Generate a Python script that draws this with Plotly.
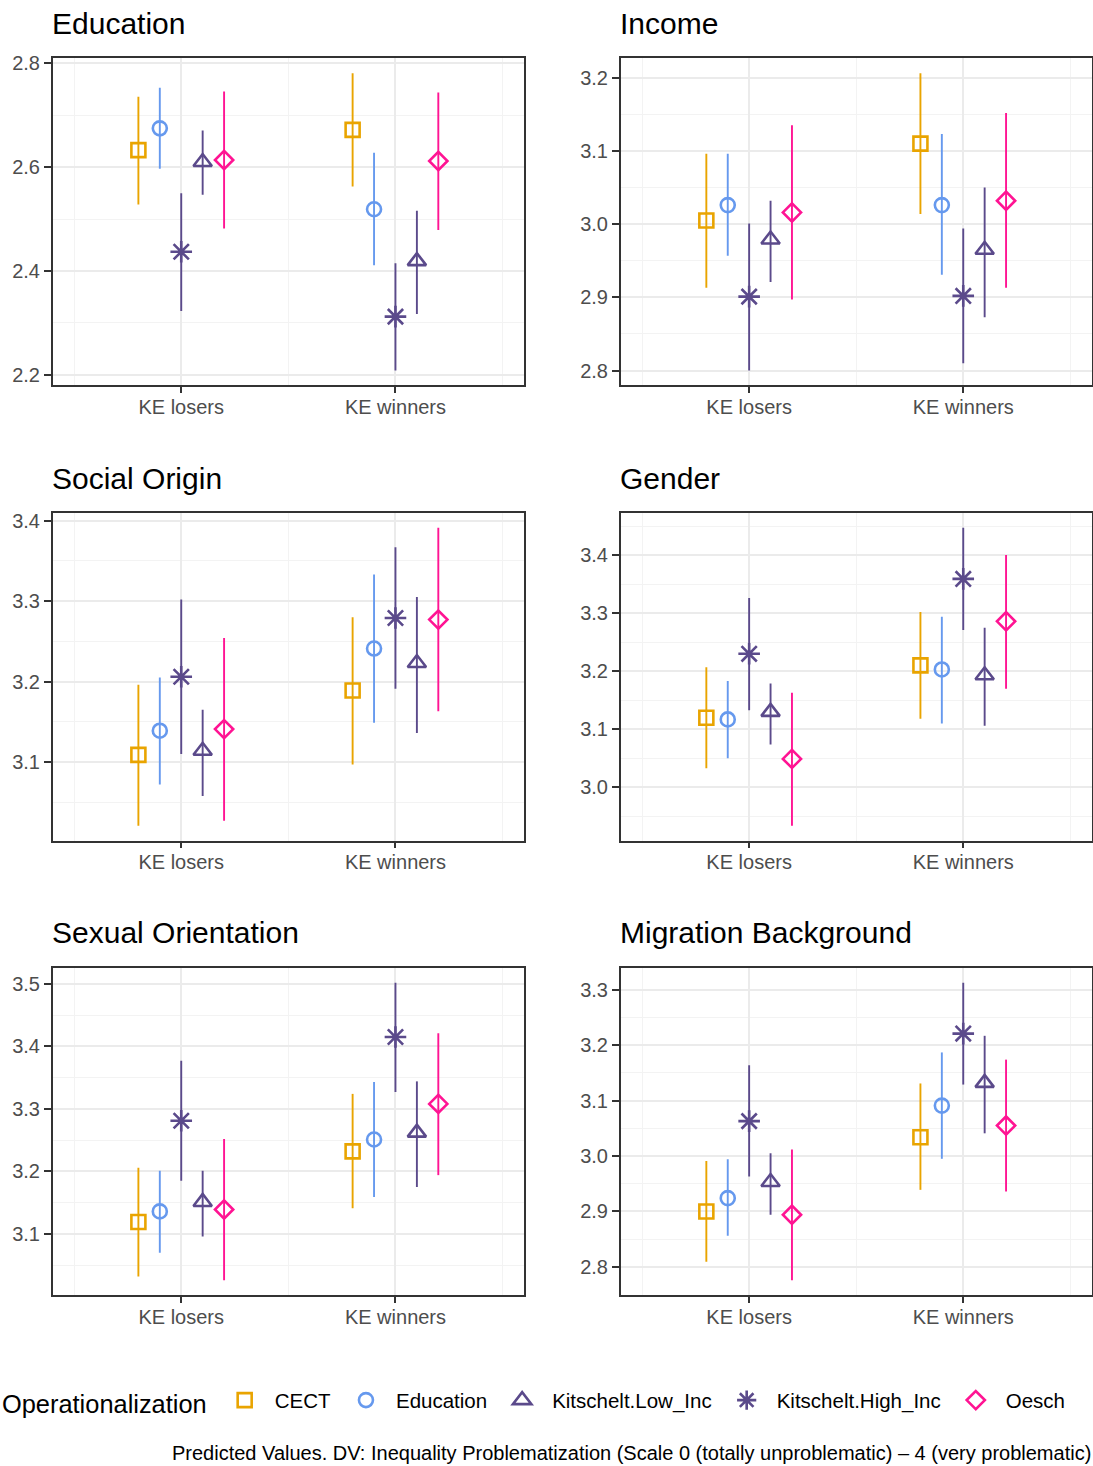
import plotly.graph_objects as go

# ---------------- data ----------------
groups = ["KE losers", "KE winners"]
series = ["CECT", "Education", "Kitschelt.High_Inc", "Kitschelt.Low_Inc", "Oesch"]
legend_rank = [1, 2, 4, 3, 5]
panel_titles = ["Education", "Income", "Social Origin", "Gender",
                "Sexual Orientation", "Migration Background"]

# rows: CECT, Education, Kitschelt.High_Inc, Kitschelt.Low_Inc, Oesch ; cols: losers, winners
est_education = [[2.633, 2.672], [2.675, 2.519], [2.437, 2.312], [2.610, 2.419], [2.614, 2.612]]
lo_education = [[2.528, 2.563], [2.597, 2.411], [2.323, 2.208], [2.547, 2.317], [2.482, 2.479]]
hi_education = [[2.736, 2.781], [2.753, 2.628], [2.550, 2.415], [2.671, 2.516], [2.746, 2.744]]

est_income = [[3.005, 3.110], [3.026, 3.026], [2.901, 2.902], [2.979, 2.965], [3.016, 3.032]]
lo_income = [[2.913, 3.014], [2.957, 2.931], [2.800, 2.810], [2.921, 2.873], [2.897, 2.913]]
hi_income = [[3.096, 3.206], [3.096, 3.123], [3.001, 2.994], [3.032, 3.050], [3.135, 3.152]]

est_social = [[3.109, 3.189], [3.139, 3.241], [3.206, 3.279], [3.114, 3.223], [3.141, 3.277]]
lo_social = [[3.021, 3.097], [3.072, 3.149], [3.110, 3.191], [3.058, 3.136], [3.027, 3.163]]
hi_social = [[3.196, 3.280], [3.205, 3.333], [3.302, 3.367], [3.165, 3.305], [3.254, 3.391]]

est_gender = [[3.120, 3.210], [3.117, 3.203], [3.230, 3.359], [3.130, 3.193], [3.049, 3.286]]
lo_gender = [[3.033, 3.118], [3.050, 3.110], [3.133, 3.271], [3.074, 3.106], [2.934, 3.170]]
hi_gender = [[3.207, 3.302], [3.183, 3.294], [3.326, 3.447], [3.179, 3.275], [3.163, 3.400]]

est_sexual = [[3.119, 3.232], [3.136, 3.251], [3.281, 3.415], [3.151, 3.262], [3.139, 3.308]]
lo_sexual = [[3.032, 3.141], [3.070, 3.159], [3.185, 3.327], [3.096, 3.175], [3.026, 3.194]]
hi_sexual = [[3.206, 3.324], [3.201, 3.343], [3.377, 3.502], [3.201, 3.344], [3.252, 3.421]]

est_migration = [[2.900, 3.034], [2.924, 3.091], [3.063, 3.221], [2.953, 3.132], [2.894, 3.055]]
lo_migration = [[2.809, 2.939], [2.856, 2.995], [2.963, 3.129], [2.894, 3.041], [2.776, 2.936]]
hi_migration = [[2.991, 3.131], [2.994, 3.187], [3.164, 3.313], [3.005, 3.217], [3.012, 3.174]]

y_dticks = [0.2, 0.1, 0.1, 0.1, 0.1, 0.1]

panel_est = [est_education, est_income, est_social, est_gender, est_sexual, est_migration]
panel_lo = [lo_education, lo_income, lo_social, lo_gender, lo_sexual, lo_migration]
panel_hi = [hi_education, hi_income, hi_social, hi_gender, hi_sexual, hi_migration]

# ---------------- styles ----------------
colors = ["#E9A400", "#6699EE", "#5B4A8B", "#5B4A8B", "#FF1493"]
symbols = ["square-open", "circle-open", "asterisk-open", "triangle-up-open", "diamond-open"]
sizes = [14, 14, 18, 16, 14]
FONT = "Liberation Sans, Arial, Helvetica, sans-serif"

W, H = 1093, 1466
col_px = [(52.7, 524.0), (620.7, 1091.7)]
row_px = [(52.7, 381.0), (509.0, 838.0), (965.7, 1294.3)]
dodge_width = 0.5


def fx(p):
    return p / W


def fy(p):
    return 1 - p / H


fig = go.Figure()
layout = dict(
    width=W, height=H, paper_bgcolor="white", plot_bgcolor="white",
    margin=dict(l=0, r=0, t=0, b=0),
    font=dict(family=FONT, color="#000000"),
    annotations=[],
)

n = len(series)
for p in range(6):
    r, c = divmod(p, 2)
    ax = "" if p == 0 else str(p + 1)
    est, lo, hi = panel_est[p], panel_lo[p], panel_hi[p]
    for s in range(n):
        off = (s - (n - 1) / 2) * dodge_width / n
        xs = [g + 1 + off for g in range(len(groups))]
        fig.add_trace(go.Scatter(
            x=xs, y=est[s],
            mode="markers",
            name=series[s],
            legendrank=legend_rank[s],
            showlegend=(p == 0),
            legendgroup=series[s],
            marker=dict(symbol=symbols[s], size=sizes[s], color=colors[s],
                        line=dict(color=colors[s], width=2.6)),
            error_y=dict(type="data", symmetric=False,
                         array=[h - e for h, e in zip(hi[s], est[s])],
                         arrayminus=[e - l for e, l in zip(est[s], lo[s])],
                         color=colors[s], thickness=1.9, width=0),
            xaxis="x" + ax, yaxis="y" + ax,
        ))
    allv = [v for row in lo for v in row] + [v for row in hi for v in row]
    vmin, vmax = min(allv), max(allv)
    pad = (vmax - vmin) * 0.05
    x0, x1 = col_px[c]
    y0, y1 = row_px[r]
    dt = y_dticks[p]
    layout["xaxis" + ax] = dict(
        domain=[fx(x0), fx(x1)], anchor="y" + ax,
        range=[0.4, 2.6], tickvals=[1, 2], ticktext=groups,
        showgrid=True, gridcolor="#EBEBEB", gridwidth=1.9,
        minor=dict(tick0=0.5, dtick=1, showgrid=True, gridcolor="#F3F3F3", gridwidth=1, ticks=""),
        showline=True, mirror=True, linecolor="#333333", linewidth=1.5,
        ticks="outside", ticklen=6, tickwidth=1.5, tickcolor="#333333",
        ticklabelstandoff=-3,
        tickfont=dict(size=20, color="#4D4D4D", family=FONT),
        zeroline=False, fixedrange=True,
    )
    layout["yaxis" + ax] = dict(
        domain=[fy(y1), fy(y0)], anchor="x" + ax,
        range=[vmin - pad, vmax + pad], dtick=dt, tick0=0, tickformat=".1f",
        showgrid=True, gridcolor="#EBEBEB", gridwidth=1.9,
        minor=dict(tick0=dt / 2, dtick=dt, showgrid=True, gridcolor="#F3F3F3", gridwidth=1, ticks=""),
        showline=True, mirror=True, linecolor="#333333", linewidth=1.5,
        ticks="outside", ticklen=7, tickwidth=1.5, tickcolor="#333333",
        tickfont=dict(size=20, color="#4D4D4D", family=FONT),
        zeroline=False, fixedrange=True,
    )
    layout["annotations"].append(dict(
        text=panel_titles[p], xref="paper", yref="paper",
        x=fx(x0 - 3), y=fy(y0 - 35), xanchor="left", yanchor="middle",
        showarrow=False, font=dict(size=30, color="#000000", family=FONT),
    ))

layout["annotations"].append(dict(
    text="Predicted Values. DV: Inequality Problematization (Scale 0 (totally unproblematic) \u2013 4 (very problematic)",
    xref="paper", yref="paper", x=fx(1093), y=fy(1453), xanchor="right", yanchor="middle",
    showarrow=False, font=dict(size=20, color="#000000", family=FONT),
))

layout["legend"] = dict(
    orientation="h", x=0, y=fy(1402), xanchor="left", yanchor="middle",
    title=dict(text="Operationalization", side="left", font=dict(size=25.4, family=FONT)),
    font=dict(size=20.5, family=FONT, color="#000000"),
    bgcolor="rgba(0,0,0,0)", itemwidth=50,
)

fig.update_layout(**layout)
fig.write_html("out.html", config={"displayModeBar": False},
               post_script="document.body.style.margin='0';document.body.style.padding='0';")
